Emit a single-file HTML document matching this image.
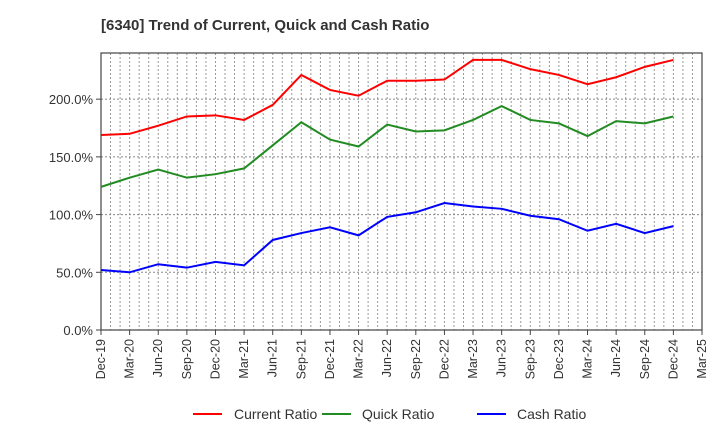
<!DOCTYPE html>
<html><head><meta charset="utf-8"><style>
body{margin:0;background:#fff;font-family:"Liberation Sans",sans-serif}
</style></head><body>
<svg id="chart" width="720" height="440" xmlns="http://www.w3.org/2000/svg" font-family="Liberation Sans, sans-serif">
<text x="101" y="30" font-size="15" font-weight="bold" fill="#333">[6340]  Trend of Current, Quick and Cash Ratio</text>
<g id="grid"></g><g id="axes"></g><g id="series"></g>
<g>
<line x1="193" y1="414" x2="222" y2="414" stroke="#ff0000" stroke-width="2"/>
<text x="234" y="419" font-size="14" fill="#333">Current Ratio</text>
<line x1="322" y1="414" x2="351" y2="414" stroke="#228b22" stroke-width="2"/>
<text x="362" y="419" font-size="14" fill="#333">Quick Ratio</text>
<line x1="477" y1="414" x2="506" y2="414" stroke="#0000ff" stroke-width="2"/>
<text x="517" y="419" font-size="14" fill="#333">Cash Ratio</text>
</g>
</svg>
<script>
const xLabels=["Dec-19","Mar-20","Jun-20","Sep-20","Dec-20","Mar-21","Jun-21","Sep-21","Dec-21","Mar-22","Jun-22","Sep-22","Dec-22","Mar-23","Jun-23","Sep-23","Dec-23","Mar-24","Jun-24","Sep-24","Dec-24","Mar-25"];
const yTicks=[0,50,100,150,200];
const yTickLabels=["0.0%","50.0%","100.0%","150.0%","200.0%"];
const currentRatio=[169,170,177,185,186,182,195,221,208,203,216,216,217,234,234,226,221,213,219,228,234];
const quickRatio=[124,132,139,132,135,140,160,180,165,159,178,172,173,182,194,182,179,168,181,179,185];
const cashRatio=[52,50,57,54,59,56,78,84,89,82,98,102,110,107,105,99,96,86,92,84,90];
const NS="http://www.w3.org/2000/svg";
const L=101,R=702,T=53,B=330,YMAX=240;
const nQ=xLabels.length; // 22 quarter labels -> span 21 quarters ... last tick Mar-25
const qw=(R-L)/(nQ-1+ (1/3)*0); 
function xq(i){return L+i*(R-L)/(nQ-1);}
function y(v){return B-v*(B-T)/YMAX;}
function el(t,a,p){const e=document.createElementNS(NS,t);for(const k in a)e.setAttribute(k,a[k]);p.appendChild(e);return e;}
const grid=document.getElementById('grid'),axes=document.getElementById('axes'),series=document.getElementById('series');
const months=(nQ-1)*3;
for(let m=1;m<months;m++){const x=L+m*(R-L)/months;
const g=el('line',{x1:x,y1:T,x2:x,y2:B,stroke:'#999','stroke-dasharray':'2,2','stroke-width':1},grid);

}
yTicks.forEach((v,i)=>{const yy=y(v);
if(v>0){const g=el('line',{x1:L,y1:yy,x2:R,y2:yy,stroke:'#888','stroke-dasharray':'2,2','stroke-width':1},grid);

}
el('line',{x1:L-5,y1:yy,x2:L,y2:yy,stroke:'#444'},axes);
const t=el('text',{x:L-8,y:yy+5,'font-size':13,'text-anchor':'end',fill:'#333'},axes);t.textContent=yTickLabels[i];

});
xLabels.forEach((s,i)=>{const x=xq(i);
el('line',{x1:x,y1:B,x2:x,y2:B+5,stroke:'#444'},axes);
const t=el('text',{x:x+4,y:B+9,'font-size':12.5,'text-anchor':'end',fill:'#333',transform:`rotate(-90 ${x+4} ${B+9})`},axes);t.textContent=s;

});
const fr=el('rect',{x:L,y:T,width:R-L,height:B-T,fill:'none',stroke:'#444','stroke-width':1.2},axes);


[[currentRatio,'#ff0000','current-ratio-line'],[quickRatio,'#228b22','quick-ratio-line'],[cashRatio,'#0000ff','cash-ratio-line']].forEach(([d,c,n])=>{
const p=el('polyline',{points:d.map((v,i)=>xq(i)+','+y(v)).join(' '),fill:'none',stroke:c,'stroke-width':2},series);

});
</script>
</body></html>
